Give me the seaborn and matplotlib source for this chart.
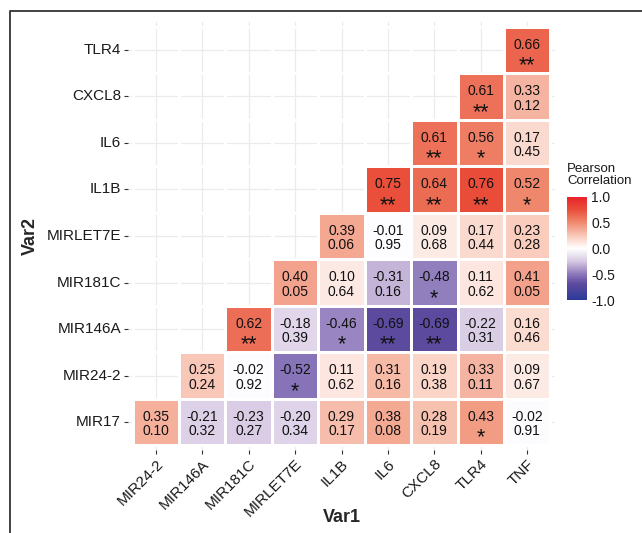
import numpy as np
import pandas as pd
import seaborn as sns
import matplotlib
matplotlib.use("Agg")
import matplotlib.pyplot as plt
from matplotlib.colors import LinearSegmentedColormap
from matplotlib.lines import Line2D

# Column variables (x) and row variables (y, bottom to top)
var1 = ["MIR24-2", "MIR146A", "MIR181C", "MIRLET7E", "IL1B", "IL6", "CXCL8", "TLR4", "TNF"]
var2 = ["MIR17", "MIR24-2", "MIR146A", "MIR181C", "MIRLET7E", "IL1B", "IL6", "CXCL8", "TLR4"]

# Pearson r for each column of var1, listed from the MIR17 row upward
r_mir24_2 = [0.35]
r_mir146a = [-0.21, 0.25]
r_mir181c = [-0.23, -0.02, 0.62]
r_mirlet7e = [-0.20, -0.52, -0.18, 0.40]
r_il1b = [0.29, 0.11, -0.46, 0.10, 0.39]
r_il6 = [0.38, 0.31, -0.69, -0.31, -0.01, 0.75]
r_cxcl8 = [0.28, 0.19, -0.69, -0.48, 0.09, 0.64, 0.61]
r_tlr4 = [0.43, 0.33, -0.22, 0.11, 0.17, 0.76, 0.56, 0.61]
r_tnf = [-0.02, 0.09, 0.16, 0.41, 0.23, 0.52, 0.17, 0.33, 0.66]

# p-value (or significance stars) printed under each coefficient
p_mir24_2 = ["0.10"]
p_mir146a = ["0.32", "0.24"]
p_mir181c = ["0.27", "0.92", "**"]
p_mirlet7e = ["0.34", "*", "0.39", "0.05"]
p_il1b = ["0.17", "0.62", "*", "0.64", "0.06"]
p_il6 = ["0.08", "0.16", "**", "0.16", "0.95", "**"]
p_cxcl8 = ["0.19", "0.38", "**", "*", "0.68", "**", "**"]
p_tlr4 = ["*", "0.11", "0.31", "0.62", "0.44", "**", "*", "**"]
p_tnf = ["0.91", "0.67", "0.46", "0.05", "0.28", "*", "0.45", "0.12", "**"]

r_cols = [r_mir24_2, r_mir146a, r_mir181c, r_mirlet7e, r_il1b, r_il6, r_cxcl8, r_tlr4, r_tnf]
p_cols = [p_mir24_2, p_mir146a, p_mir181c, p_mirlet7e, p_il1b, p_il6, p_cxcl8, p_tlr4, p_tnf]

# Assemble the triangular matrix (rows ordered top to bottom for the heatmap)
rows_top_down = var2[::-1]
mat = pd.DataFrame(np.nan, index=rows_top_down, columns=var1)
lab = pd.DataFrame("", index=rows_top_down, columns=var1)
for j, col in enumerate(var1):
    for i, (r, p) in enumerate(zip(r_cols[j], p_cols[j])):
        mat.loc[var2[i], col] = r
        lab.loc[var2[i], col] = p
mask = mat.isna()

sns.set_theme(style="white")
plt.rcParams["font.family"] = ["Liberation Sans", "DejaVu Sans"]

cmap = LinearSegmentedColormap.from_list(
    "pearson",
    [(0.00, "#2c3a98"), (0.155, "#5c4a9e"), (0.25, "#8c78ba"), (0.375, "#d6c8e2"),
     (0.50, "#ffffff"), (0.625, "#f8c8b8"), (0.75, "#f08c72"), (0.875, "#e9503a"),
     (1.00, "#e8222a")])

W, H = 642, 533
fig = plt.figure(figsize=(W / 100, H / 100), dpi=100)
ax = fig.add_axes([128 / W, 1 - 450 / H, (555 - 128) / W, (450 - 22) / H])
cax = fig.add_axes([567 / W, 1 - 300 / H, 20 / W, 103 / H])

sns.heatmap(mat, mask=mask, cmap=cmap, vmin=-1, vmax=1, linewidths=1,
            linecolor="white", ax=ax, cbar_ax=cax, square=False)

ax.set_xlim(-0.1, len(var1) + 0.1)
ax.set_ylim(len(var2) + 0.1, -0.1)
ax.grid(True, color="#ebebeb", linewidth=0.9)
ax.set_axisbelow(True)
for s in ax.spines.values():
    s.set_visible(False)

# Cell labels: coefficient on top, p-value or stars below
for yi, rname in enumerate(rows_top_down):
    for xi, cname in enumerate(var1):
        if mask.loc[rname, cname]:
            continue
        r = mat.loc[rname, cname]
        ax.text(xi + 0.5, yi + 0.39, f"{r:.2f}", ha="center", va="center",
                fontsize=10, color="#111111")
        p = lab.loc[rname, cname]
        if p.startswith("*"):
            ax.text(xi + 0.5, yi + 0.96, p, ha="center", va="baseline",
                    fontsize=15.5, color="#111111")
        else:
            ax.text(xi + 0.5, yi + 0.70, p, ha="center", va="center",
                    fontsize=10, color="#111111")

ax.set_xticks(np.arange(len(var1)) + 0.5)
ax.set_xticklabels(var1, rotation=45, ha="right", rotation_mode="anchor",
                   fontsize=11, color="#1a1a1a")
ax.set_yticks(np.arange(len(var2)) + 0.5)
ax.set_yticklabels(rows_top_down, rotation=0, fontsize=11, color="#1a1a1a")
ax.tick_params(axis="both", which="both", length=3, width=0.8, color="#333333",
               bottom=True, left=True, pad=2)
ax.set_xlabel("Var1", fontsize=13, fontweight="bold")
ax.set_ylabel("Var2", fontsize=13, fontweight="bold")
ax.xaxis.set_label_coords(0.5, -0.158)
ax.yaxis.set_label_coords(-0.228, 0.5)
ax.xaxis.label.set_va("center")
ax.yaxis.label.set_va("center")

# Colour bar styling
cbar = ax.collections[0].colorbar
cbar.outline.set_visible(False)
cbar.set_ticks([-1.0, -0.5, 0.0, 0.5, 1.0])
cbar.set_ticklabels(["-1.0", "-0.5", "0.0", "0.5", "1.0"])
cax.tick_params(axis="y", direction="in", length=4, width=0.8, color="white",
                left=True, right=True, labelleft=False, labelright=True,
                labelsize=10, labelcolor="#1a1a1a", pad=3)
cax.set_title("Pearson\nCorrelation", loc="left", fontsize=9.5, pad=9,
              color="#1a1a1a", ha="left", linespacing=1.0)

# Frame line along the top and left edges
fig.add_artist(Line2D([10 / W, 10 / W, 1.0], [0.0, 1 - 11 / H, 1 - 11 / H],
                      transform=fig.transFigure, color="#333333", linewidth=1.3))

fig.savefig("out.png", dpi=100, facecolor="white")
